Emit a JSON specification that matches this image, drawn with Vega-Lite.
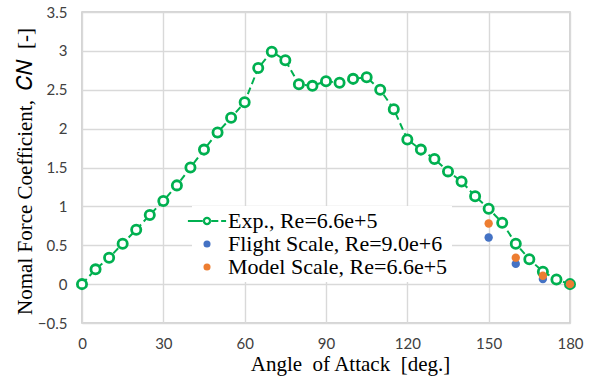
{
  "$schema": "https://vega.github.io/schema/vega-lite/v6.json",
  "width": 488,
  "height": 311,
  "autosize": {"type": "none"},
  "padding": {"left": 82, "top": 12, "right": 24, "bottom": 58},
  "background": "white",
  "config": {
    "view": {"stroke": "#c8c8c8", "strokeWidth": 1.5},
    "axis": {
      "grid": true,
      "gridColor": "#d9d9d9",
      "gridWidth": 1.4,
      "domain": false,
      "ticks": false,
      "labelFlush": false,
      "labelFont": "Lato",
      "labelFontSize": 15,
      "labelColor": "#404040",
      "titleFont": "Liberation Serif",
      "titleFontSize": 21,
      "titleFontWeight": "normal",
      "titleColor": "black"
    }
  },
  "datasets": {
    "experiment": [
      {"angle": 0, "cn": 0.0, "series": "Exp., Re=6.6e+5"},
      {"angle": 5, "cn": 0.19, "series": "Exp., Re=6.6e+5"},
      {"angle": 10, "cn": 0.34, "series": "Exp., Re=6.6e+5"},
      {"angle": 15, "cn": 0.52, "series": "Exp., Re=6.6e+5"},
      {"angle": 20, "cn": 0.70, "series": "Exp., Re=6.6e+5"},
      {"angle": 25, "cn": 0.89, "series": "Exp., Re=6.6e+5"},
      {"angle": 30, "cn": 1.07, "series": "Exp., Re=6.6e+5"},
      {"angle": 35, "cn": 1.27, "series": "Exp., Re=6.6e+5"},
      {"angle": 40, "cn": 1.50, "series": "Exp., Re=6.6e+5"},
      {"angle": 45, "cn": 1.73, "series": "Exp., Re=6.6e+5"},
      {"angle": 50, "cn": 1.95, "series": "Exp., Re=6.6e+5"},
      {"angle": 55, "cn": 2.14, "series": "Exp., Re=6.6e+5"},
      {"angle": 60, "cn": 2.34, "series": "Exp., Re=6.6e+5"},
      {"angle": 65, "cn": 2.78, "series": "Exp., Re=6.6e+5"},
      {"angle": 70, "cn": 2.99, "series": "Exp., Re=6.6e+5"},
      {"angle": 75, "cn": 2.88, "series": "Exp., Re=6.6e+5"},
      {"angle": 80, "cn": 2.57, "series": "Exp., Re=6.6e+5"},
      {"angle": 85, "cn": 2.55, "series": "Exp., Re=6.6e+5"},
      {"angle": 90, "cn": 2.61, "series": "Exp., Re=6.6e+5"},
      {"angle": 95, "cn": 2.59, "series": "Exp., Re=6.6e+5"},
      {"angle": 100, "cn": 2.64, "series": "Exp., Re=6.6e+5"},
      {"angle": 105, "cn": 2.66, "series": "Exp., Re=6.6e+5"},
      {"angle": 110, "cn": 2.50, "series": "Exp., Re=6.6e+5"},
      {"angle": 115, "cn": 2.25, "series": "Exp., Re=6.6e+5"},
      {"angle": 120, "cn": 1.86, "series": "Exp., Re=6.6e+5"},
      {"angle": 125, "cn": 1.73, "series": "Exp., Re=6.6e+5"},
      {"angle": 130, "cn": 1.61, "series": "Exp., Re=6.6e+5"},
      {"angle": 135, "cn": 1.45, "series": "Exp., Re=6.6e+5"},
      {"angle": 140, "cn": 1.32, "series": "Exp., Re=6.6e+5"},
      {"angle": 145, "cn": 1.13, "series": "Exp., Re=6.6e+5"},
      {"angle": 150, "cn": 0.97, "series": "Exp., Re=6.6e+5"},
      {"angle": 155, "cn": 0.79, "series": "Exp., Re=6.6e+5"},
      {"angle": 160, "cn": 0.52, "series": "Exp., Re=6.6e+5"},
      {"angle": 165, "cn": 0.32, "series": "Exp., Re=6.6e+5"},
      {"angle": 170, "cn": 0.16, "series": "Exp., Re=6.6e+5"},
      {"angle": 175, "cn": 0.06, "series": "Exp., Re=6.6e+5"},
      {"angle": 180, "cn": 0.0, "series": "Exp., Re=6.6e+5"}
    ],
    "simulation": [
      {"angle": 150, "cn": 0.60, "series": "Flight Scale, Re=9.0e+6"},
      {"angle": 160, "cn": 0.26, "series": "Flight Scale, Re=9.0e+6"},
      {"angle": 170, "cn": 0.065, "series": "Flight Scale, Re=9.0e+6"},
      {"angle": 180, "cn": 0.0, "series": "Flight Scale, Re=9.0e+6"},
      {"angle": 150, "cn": 0.78, "series": "Model Scale, Re=6.6e+5"},
      {"angle": 160, "cn": 0.34, "series": "Model Scale, Re=6.6e+5"},
      {"angle": 170, "cn": 0.107, "series": "Model Scale, Re=6.6e+5"},
      {"angle": 180, "cn": 0.0, "series": "Model Scale, Re=6.6e+5"}
    ]
  },
  "encoding": {
    "x": {
      "field": "angle",
      "type": "quantitative",
      "scale": {"domain": [0, 180], "nice": false},
      "axis": {
        "values": [0, 30, 60, 90, 120, 150, 180],
        "title": "Angle\u00a0 of Attack\u00a0 [deg.]",
        "labelPadding": 13,
        "titleX": 268,
        "titleY": 47,
        "titleBaseline": "alphabetic"
      }
    },
    "y": {
      "field": "cn",
      "type": "quantitative",
      "scale": {"domain": [-0.5, 3.5], "nice": false},
      "axis": {
        "values": [-0.5, 0, 0.5, 1, 1.5, 2, 2.5, 3, 3.5],
        "format": "~g",
        "title": "Nomal Force Coefficient,\u00a0 𝐶𝑁\u00a0 [-]",
        "labelPadding": 15,
        "titleX": -57,
        "titleY": 159,
        "titleAngle": -90,
        "titleAlign": "center",
        "titleBaseline": "middle"
      }
    }
  },
  "layer": [
    {
      "mark": {"type": "rule", "color": "#333333", "strokeWidth": 2.5},
      "encoding": {"y": {"datum": 0}, "x": {"value": 0}, "x2": {"value": 488}}
    },
    {
      "data": {"name": "experiment"},
      "mark": {
        "type": "line",
        "strokeWidth": 2,
        "strokeDash": [7, 4],
        "point": {"filled": false, "fill": "white", "size": 85, "strokeWidth": 2.8, "color": "#00b050"}
      },
      "encoding": {
        "color": {
          "field": "series",
          "type": "nominal",
          "scale": {
            "domain": ["Exp., Re=6.6e+5", "Flight Scale, Re=9.0e+6", "Model Scale, Re=6.6e+5"],
            "range": ["#00b050", "#4472c4", "#ed7d31"]
          },
          "legend": {
            "orient": "none",
            "legendX": 110,
            "legendY": 194,
            "title": null,
            "fillColor": "white",
            "padding": 4,
            "labelFont": "Liberation Serif",
            "labelFontSize": 22,
            "labelColor": "black",
            "labelLimit": 0,
            "labelOffset": 10,
            "rowPadding": 1,
            "symbolSize": 50,
            "encode": {
              "symbols": {
                "update": {
                  "shape": {"signal": "datum.value == 'Exp., Re=6.6e+5' ? 'M-5.4,-0.29H-1.1V0.29H-5.4Z M1.1,-0.29H3.2V0.29H1.1Z M4,-0.29H5.4V0.29H4Z M1.2,0A1.2,1.2,0,1,0,-1.2,0A1.2,1.2,0,1,0,1.2,0Z M0.55,0A0.55,0.55,0,1,1,-0.55,0A0.55,0.55,0,1,1,0.55,0Z' : 'circle'"},
                  "fill": {"signal": "scale('color', datum.value)"},
                  "stroke": {"value": "transparent"},
                  "strokeWidth": {"value": 0},
                  "strokeDash": {"value": []},
                  "size": {"value": 50},
                  "opacity": {"value": 1}
                }
              }
            }
          }
        }
      }
    },
    {
      "data": {"name": "simulation"},
      "mark": {"type": "point", "filled": true, "size": 70, "opacity": 1},
      "encoding": {
        "color": {"field": "series", "type": "nominal"}
      }
    }
  ]
}
